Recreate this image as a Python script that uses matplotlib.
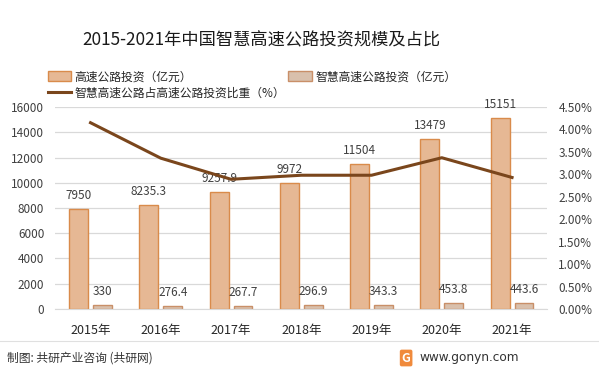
import numpy as np
import matplotlib
matplotlib.use("Agg")
import matplotlib.pyplot as plt
from matplotlib.lines import Line2D

plt.rcParams['font.family'] = ['Noto Sans CJK SC', 'DejaVu Sans']

# -----------------------------
# Datos
# -----------------------------
years = ["2015年", "2016年", "2017年", "2018年", "2019年", "2020年", "2021年"]
highway_invest = [7950, 8235.3, 9257.9, 9972, 11504, 13479, 15151]
smart_invest = [330, 276.4, 267.7, 296.9, 343.3, 453.8, 443.6]
smart_share = [4.15, 3.36, 2.89, 2.98, 2.98, 3.37, 2.93]  # %

highway_labels = ["7950", "8235.3", "9257.9", "9972", "11504", "13479", "15151"]
smart_labels = ["330", "276.4", "267.7", "296.9", "343.3", "453.8", "443.6"]

C_BIG = "#E6B894"
C_BIG_EDGE = "#D98B4B"
C_SMALL = "#D9C0AC"
C_SMALL_EDGE = "#C98F68"
C_LINE = "#7A461C"
C_TEXT = "#404040"

# -----------------------------
# Figura
# -----------------------------
fig = plt.figure(figsize=(5.99, 3.73), dpi=100)
ax = fig.add_axes([0.0925, 0.1716, 0.821, 0.5415])
ax2 = ax.twinx()

x = np.arange(len(years))
w = 0.27
off = 0.17

b1 = ax.bar(x - off, highway_invest, w, color=C_BIG, edgecolor=C_BIG_EDGE, linewidth=1, zorder=2)
b2 = ax.bar(x + off, smart_invest, w, color=C_SMALL, edgecolor=C_SMALL_EDGE, linewidth=1, zorder=2)

for xi, v, t in zip(x, highway_invest, highway_labels):
    ax.text(xi - off, v + 550, t, ha="center", va="bottom", fontsize=8.5, color=C_TEXT, zorder=5)
for xi, v, t in zip(x, smart_invest, smart_labels):
    ax.text(xi + off, v + 550, t, ha="center", va="bottom", fontsize=8.5, color=C_TEXT, zorder=5)

ax.set_xlim(-0.5, len(years) - 0.5)
ax.set_ylim(0, 16000)
ax.set_yticks(np.arange(0, 16001, 2000))
ax.set_xticks(x)
ax.set_xticklabels(years, fontsize=9, color="#262626")
ax.tick_params(axis="y", labelsize=8.5, labelcolor=C_TEXT, length=0, pad=8)
ax.tick_params(axis="x", length=0, pad=11)
ax.grid(axis="y", color="#D9D9D9", linewidth=0.9, zorder=0)
ax.set_axisbelow(True)
for s in ax.spines.values():
    s.set_visible(False)
ax.spines["bottom"].set_visible(True)
ax.spines["bottom"].set_color("#D9D9D9")

ax2.plot(x, smart_share, color=C_LINE, linewidth=2.2, zorder=4)
ax2.set_ylim(0, 4.5)
ax2.set_yticks(np.arange(0, 4.51, 0.5))
ax2.set_yticklabels([f"{v:.2f}%" for v in np.arange(0, 4.51, 0.5)])
ax2.tick_params(axis="y", labelsize=8.5, labelcolor=C_TEXT, length=0, pad=8)
for s in ax2.spines.values():
    s.set_visible(False)

# -----------------------------
# Titulo y leyenda
# -----------------------------
fig.text(0.436, 0.893, "2015-2021年中国智慧高速公路投资规模及占比", ha="center", va="center",
         fontsize=12.4, color="#1A1A1A")

line_handle = Line2D([0], [0], color=C_LINE, linewidth=2.2)
fig.legend([b1, line_handle, b2],
           ["高速公路投资（亿元）", "智慧高速公路占高速公路投资比重（%）", "智慧高速公路投资（亿元）"],
           ncol=2, loc="upper left", bbox_to_anchor=(0.062, 0.84), frameon=False,
           fontsize=8.5, handlelength=2.0, handleheight=0.9, handletextpad=0.25,
           columnspacing=0.3, labelspacing=0.3, labelcolor="#262626")

# -----------------------------
# Pie de figura
# -----------------------------
fig.add_artist(Line2D([0, 1], [1 - 341 / 373] * 2, color="#E0E0E0", linewidth=0.8))
fig.text(0.012, 1 - 358 / 373, "制图: 共研产业咨询 (共研网)", ha="left", va="center",
         fontsize=8.5, color="#333333")
fig.text(0.866, 1 - 357 / 373, "www.gonyn.com", ha="right", va="center",
         fontsize=8.7, color="#333333", family=["DejaVu Sans"])
fig.text(0.678, 1 - 358 / 373, "G", ha="center", va="center", fontsize=9,
         color="white", fontweight="bold",
         bbox=dict(boxstyle="round,pad=0.15", fc="#F08A3C", ec="none"))

fig.savefig("out.png", dpi=100)
